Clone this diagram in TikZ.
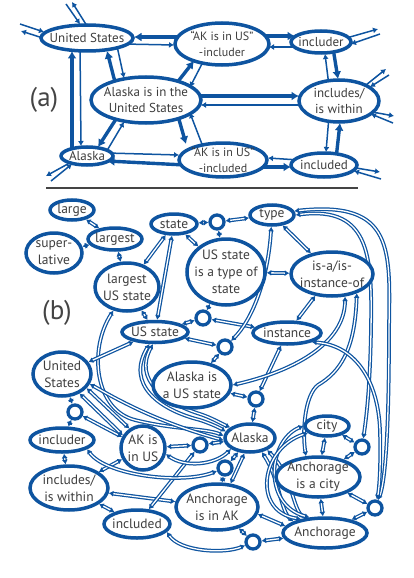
\documentclass[tikz,border=0pt]{standalone}
\usepackage{fontspec}
\setmainfont{PT Sans}
\usetikzlibrary{shapes.geometric,arrows.meta,backgrounds}
\definecolor{nb}{RGB}{14,84,160}
\definecolor{tg}{RGB}{62,62,62}
\definecolor{sepc}{RGB}{68,68,68}
\tikzset{
 elps/.style={ellipse, draw=nb, line width=3.5pt, fill=white, inner sep=0pt},
 txt/.style={align=center, text=tg, font=\fontsize{13}{15.5}\selectfont, inner sep=0pt},
 txtq/.style={align=center, text=tg, font=\fontsize{12}{15.5}\selectfont, inner sep=0pt},
 txtb/.style={align=center, text=tg, font=\fontsize{13.5}{17}\selectfont, inner sep=0pt},
 jn/.style={circle, draw=nb, line width=3.3pt, fill=white, minimum size=14pt, inner sep=0pt},
 thk/.style={draw=nb, line width=3.4pt, -{Latex[length=7.5pt,width=9pt]}},
 thn/.style={draw=nb, line width=1.5pt, -{Latex[length=5pt,width=6pt]}},
 dl/.style={draw=nb, line width=1.25pt, double=white, double distance=1.3pt, {Latex[length=4.5pt,width=6pt]}-{Latex[length=4.5pt,width=6pt]}},
 biglbl/.style={text=sepc, font=\fontsize{27}{30}\selectfont, inner sep=0pt},
}
\newcommand\ellnode[6][txt]{%
 \node[elps, minimum width=#4pt, minimum height=#5pt] (#2) at (#3) {};
 \node[#1] (#2t) at (#2) {#6};}
\begin{document}
\begin{tikzpicture}[x=1pt,y=-1pt]
\useasboundingbox (0,0) rectangle (413,578);
% ---------- (a) ----------
\ellnode{aUS}{87,38}{92}{26}{United States}
\ellnode[txtq]{aINC}{222,44}{94}{42}{“AK is in US”\\-includer}
\ellnode{aIR}{321,42}{60}{22}{includer}
\ellnode{aAUS}{146,100}{110}{46}{Alaska is in the\\United States}
\ellnode{aIW}{339,101}{80}{42}{includes/\\is within}
\ellnode{aAK}{87,156}{52}{18}{Alaska}
\ellnode[txtq]{aIND}{223,160}{88}{34}{“AK is in US”\\-included}
\ellnode{aID}{324,165}{66}{24}{included}
\node[biglbl] (la) at (44,100) {(a)};
\coordinate (eA1) at (66,4); \coordinate (eA2) at (72,2);
\coordinate (eB1) at (20,24); \coordinate (eB2) at (21,31);
\coordinate (eC1) at (378,29); \coordinate (eC2) at (380,34);
\coordinate (eD1) at (386,69); \coordinate (eD2) at (389,75);
\coordinate (eE1) at (394,116); \coordinate (eE2) at (393,123);
\coordinate (eF1) at (380,172); \coordinate (eF2) at (381,179);
\coordinate (eG1) at (46,176); \coordinate (eG2) at (51,181);
\coordinate (sepL) at (46,188); \coordinate (sepR) at (358,188);
\draw[line width=2.8pt, draw=sepc] (sepL) -- (sepR);
% ---------- (b) ----------
\ellnode[txtb]{bLarge}{72,210}{44}{20}{large}
\ellnode[txtb]{bLargest}{115,239}{54}{22}{largest}
\ellnode[txtb]{bSuper}{54,253}{56}{40}{super-\\lative}
\ellnode[txtb]{bState}{174,224}{46}{20}{state}
\ellnode[txtb]{bLUS}{127,287}{64}{48}{largest\\US state}
\ellnode[txtb]{bUSs}{155,332}{66}{21}{US state}
\ellnode[txtb]{bUnited}{62,374}{58}{44}{United\\States}
\ellnode[txtb]{bType}{272,215}{44}{20}{type}
\ellnode[txtb]{bUSSTS}{226,272}{78}{66}{US state\\is a type of\\state}
\ellnode[txtb]{bIsa}{332,274}{82}{44}{is-a/is-\\instance-of}
\ellnode[txtb]{bInst}{287,333}{68}{22}{instance}
\ellnode[txtb]{bAKUS}{192,385}{78}{46}{Alaska is\\a US state}
\ellnode[txtb]{bAlaska}{250,438}{50}{28}{Alaska}
\ellnode[txtb]{bAKinUS}{143,448}{44}{44}{AK is\\in US}
\ellnode[txtb]{bIncluder}{62,440}{64}{24}{includer}
\ellnode[txtb]{bIncludes}{69,488}{78}{44}{includes/\\is within}
\ellnode[txtb]{bIncluded}{137,524}{66}{28}{included}
\ellnode[txtb]{bAnchAK}{217,507}{82}{46}{Anchorage\\is in AK}
\ellnode[txtb]{bCity}{327,426}{44}{20}{city}
\ellnode[txtb]{bAnchCity}{318,477}{84}{40}{Anchorage\\is a city}
\ellnode[txtb]{bAnch}{325,533}{84}{30}{Anchorage}
\node[biglbl] (lb) at (57,313) {(b)};
\node[jn] (c1) at (217,222) {};
\node[jn] (c2) at (203,318) {};
\node[jn] (c3) at (225,347) {};
\node[jn] (c4) at (256,399) {};
\node[jn] (c5) at (200,445) {};
\node[jn] (c6) at (225,468) {};
\node[jn] (c7) at (75,412) {};
\node[jn] (c8) at (253,542) {};
\node[jn] (c9) at (362,447) {};
\node[jn] (c10) at (375,508) {};
\begin{scope}[on background layer]
% (a) pairs
\draw[thk] ([shift={(-40,-7)}]aINC.center) -- ([shift={(47,-1)}]aUS.center);
\draw[thn] ([shift={(36,6)}]aUS.center) -- ([shift={(-48,1)}]aINC.center);
\draw[thk] ([shift={(38,-8)}]aINC.center) -- ([shift={(-26,-6)}]aIR.center);
\draw[thn] ([shift={(-22,5)}]aIR.center) -- ([shift={(47,3)}]aINC.center);
\draw[thk] ([shift={(12,6)}]aIR.center) -- ([shift={(-1,-22)}]aIW.center);
\draw[thn] ([shift={(-10,-15)}]aIW.center) -- ([shift={(4,12)}]aIR.center);
\draw[thk] ([shift={(12,-6)}]aID.center) -- ([shift={(1,22)}]aIW.center);
\draw[thn] ([shift={(-10,15)}]aIW.center) -- ([shift={(2,-13)}]aID.center);
\draw[thk] ([shift={(38,7)}]aIND.center) -- ([shift={(-33,2)}]aID.center);
\draw[thn] ([shift={(-25,-5)}]aID.center) -- ([shift={(45,-2)}]aIND.center);
\draw[thn] ([shift={(20,-3)}]aAK.center) -- ([shift={(-44,-5)}]aIND.center);
\draw[thk] ([shift={(-38,5)}]aIND.center) -- ([shift={(20,5)}]aAK.center);
\draw[thk] ([shift={(48,-4)}]aAUS.center) -- ([shift={(-40,-5)}]aIW.center);
\draw[thn] ([shift={(-34,4)}]aIW.center) -- ([shift={(55,5)}]aAUS.center);
\draw[thk] ([shift={(30,-16)}]aAUS.center) -- ([shift={(-28,17)}]aINC.center);
\draw[thn] ([shift={(-18,16)}]aINC.center) -- ([shift={(44,-13)}]aAUS.center);
\draw[thk] ([shift={(32,16)}]aAUS.center) -- ([shift={(-37,-16)}]aIND.center);
\draw[thn] ([shift={(-18,-8)}]aIND.center) -- ([shift={(44,13)}]aAUS.center);
\draw[thk] ([shift={(-30,-14)}]aAUS.center) -- ([shift={(20,13)}]aUS.center);
\draw[thn] ([shift={(30,8)}]aUS.center) -- ([shift={(-22,-22)}]aAUS.center);
\draw[thk] ([shift={(-28,16)}]aAUS.center) -- ([shift={(11,-9)}]aAK.center);
\draw[thn] ([shift={(18,-2)}]aAK.center) -- ([shift={(-22,22)}]aAUS.center);
\draw[thk] ([shift={(-15,-2)}]aAK.center) -- ([shift={(-15,13)}]aUS.center);
\draw[thn] ([shift={(-7,8)}]aUS.center) -- ([shift={(-6,-10)}]aAK.center);
% (a) external
\draw[thn] (eA1) -- ([shift={(-7,-14)}]aUS.center);
\draw[thn] ([shift={(0,-12)}]aUS.center) -- (eA2);
\draw[thn] (eB1) -- ([shift={(-43,-6)}]aUS.center);
\draw[thn] ([shift={(-38,2)}]aUS.center) -- (eB2);
\draw[thn] ([shift={(22,-3)}]aIR.center) -- (eC1);
\draw[thn] (eC2) -- ([shift={(30,2)}]aIR.center);
\draw[thn] ([shift={(22,-12)}]aIW.center) -- (eD1);
\draw[thn] (eD2) -- ([shift={(31,-14)}]aIW.center);
\draw[thn] ([shift={(28,10)}]aIW.center) -- (eE1);
\draw[thn] (eE2) -- ([shift={(32,13)}]aIW.center);
\draw[thn] ([shift={(26,2)}]aID.center) -- (eF1);
\draw[thn] (eF2) -- ([shift={(30,6)}]aID.center);
\draw[thn] ([shift={(-12,4)}]aAK.center) -- (eG1);
\draw[thn] (eG2) -- ([shift={(-15,8)}]aAK.center);
% (b) connectors
\draw[dl] (bLarge) -- (bLargest);
\draw[dl] (bSuper) -- (bLargest);
\draw[dl] (bLargest) -- (bLUS);
\draw[dl] (bLUS) -- (bState);
\draw[dl] (bLUS) -- (bUSs);
\draw[dl] (bState) -- (bUSs);
\draw[dl] (bState) -- (c1);
\draw[dl] (c1) -- (bType);
\draw[dl] (c1) -- (bUSSTS);
\draw[dl] (bState) -- (bUSSTS);
\draw[dl] (bUSSTS) -- (bIsa);
\draw[dl] (bType) -- (bIsa);
\draw[dl] (bUSSTS) -- (c2);
\draw[dl] (c2) -- (bUSs);
\draw[dl] (c2) -- (bInst);
\draw[dl] (bType) .. controls (268,280) and (252,320) .. (c3);
\draw[dl] (bUSs) -- (c3);
\draw[dl] (c3) -- (bAKUS);
\draw[dl] (bInst) -- (bIsa);
\draw[dl] (bInst) -- (c4);
\draw[dl] (c4) -- (bAKUS);
\draw[dl] (c4) -- (bAlaska);
\draw[dl] (bIsa.-60) .. controls (345,345) and (290,372) .. (bAKUS.east);
\draw[dl] (bIsa.-38) .. controls (355,350) and (340,372) .. (318,385) .. controls (305,395) and (302,430) .. (bAnchCity.120);
\draw[dl] (bType.east) .. controls (372,205) and (372,260) .. (371,330) .. controls (370,390) and (366,420) .. (c9);
\draw[dl] (bType.10) .. controls (395,200) and (390,250) .. (389,330) .. controls (389,420) and (386,480) .. (c10);
\draw[dl] (bInst.-20) .. controls (355,345) and (378,380) .. (380,430) .. controls (381,470) and (379,490) .. (c10);
\draw[dl] (bLUS.-120) .. controls (88,350) and (95,410) .. (135,420) .. controls (175,430) and (205,428) .. (bAlaska.175);
\draw[dl] (bUSs.-115) .. controls (125,385) and (160,410) .. (200,420) .. controls (212,424) and (220,428) .. (bAlaska.165);
\draw[dl] (bUSs.-100) .. controls (133,380) and (165,403) .. (200,414) .. controls (212,418) and (220,423) .. (bAlaska.152);
\draw[dl] (bUnited.-20) .. controls (110,395) and (150,420) .. (bAlaska.185);
\draw[dl] (bUnited) -- (bUSs);
\draw[dl] (bUnited.-30) -- (bAKinUS.125);
\draw[dl] (bUnited.-48) -- (bAKinUS.148);
\draw[dl] (bUnited) -- (c7);
\draw[dl] (c7) -- (bIncluder);
\draw[dl] (c7) -- (bAKinUS);
\draw[dl] (bAKinUS) -- (bIncludes);
\draw[dl] (bIncluder) -- (bIncludes);
\draw[dl] (bIncludes) -- (bIncluded);
\draw[dl] (bIncludes) -- (bAnchAK);
\draw[dl] (bAKinUS) -- (c5);
\draw[dl] (c5) -- (bAlaska);
\draw[dl] (c5) -- (bIncluded);
\draw[dl] (bAKinUS.-15) .. controls (185,468) and (215,465) .. (bAlaska.-150);
\draw[dl] (bIncluder.-20) .. controls (105,475) and (180,485) .. (c6);
\draw[dl] (c6) -- (bAlaska);
\draw[dl] (c6) -- (bAnchAK);
\draw[dl] (bAlaska.-110) -- (bAnchAK.60);
\draw[dl] (bAnchAK) -- (c8);
\draw[dl] (c8) -- (bAnch);
\draw[dl] (bAnchAK.-10) -- (bAnch.170);
\draw[dl] (bIncluded.-15) .. controls (180,552) and (225,554) .. (c8);
\draw[dl] (bAlaska.-50) .. controls (280,480) and (280,510) .. (bAnch.160);
\draw[dl] (bAlaska.-35) .. controls (292,475) and (292,505) .. (bAnch.145);
\draw[dl] (bCity.west) .. controls (268,440) and (262,505) .. (bAnch.135);
\draw[dl] (bCity.200) .. controls (260,448) and (252,512) .. (bAnch.150);
\draw[dl] (bCity) -- (bAnchCity);
\draw[dl] (bCity) -- (c9);
\draw[dl] (c9) -- (bAnchCity);
\draw[dl] (bAnchCity) -- (bAnch);
\draw[dl] (bAnchCity) -- (c10);
\draw[dl] (c10) -- (bAnch);
\end{scope}
\end{tikzpicture}
\end{document}
